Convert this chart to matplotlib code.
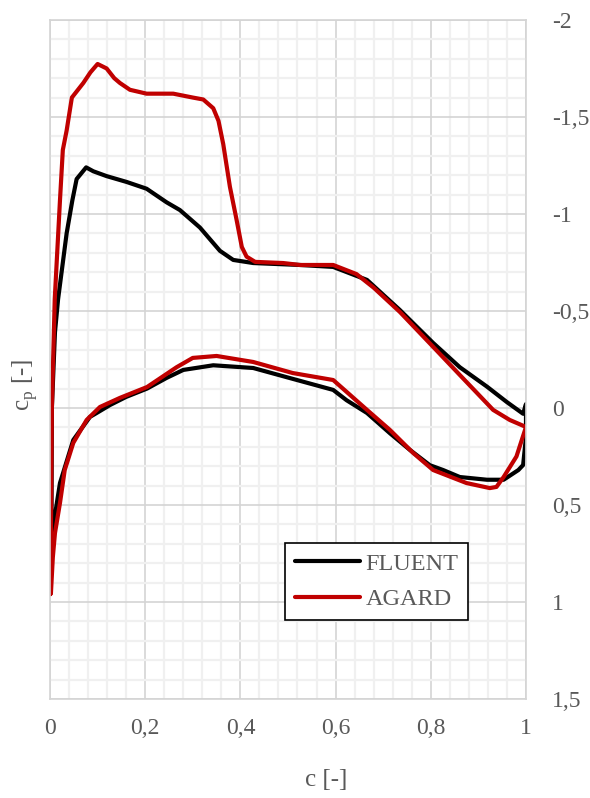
import numpy as np
import matplotlib.pyplot as plt
from matplotlib.ticker import MultipleLocator, FuncFormatter

# FLUENT: leading edge -> upper (suction) side -> TE -> lower side -> LE
fluent_x = [0.003, 0.004, 0.0105, 0.017, 0.035, 0.047, 0.056, 0.076, 0.091, 0.119,
            0.161, 0.203, 0.227, 0.245, 0.273, 0.315, 0.357, 0.385, 0.427, 0.525,
            0.595, 0.666, 0.735, 0.805, 0.861, 0.918, 0.96, 0.994, 1.0, 1.0,
            0.994, 0.984, 0.953, 0.918, 0.861, 0.826, 0.798, 0.756, 0.714, 0.666,
            0.623, 0.595, 0.51, 0.427, 0.343, 0.28, 0.245, 0.204, 0.16, 0.126,
            0.098, 0.084, 0.049, 0.021, 0.01, 0.006, 0.003]
fluent_cp = [0.72, 0.0, -0.39, -0.56, -0.90, -1.07, -1.18, -1.24, -1.22, -1.195,
             -1.165, -1.13, -1.09, -1.06, -1.02, -0.93, -0.81, -0.763, -0.747, -0.737,
             -0.727, -0.66, -0.505, -0.335, -0.21, -0.11, -0.03, 0.03, -0.02, 0.15,
             0.294, 0.32, 0.37, 0.37, 0.356, 0.32, 0.295, 0.216, 0.13, 0.026,
             -0.04, -0.093, -0.15, -0.206, -0.22, -0.196, -0.155, -0.10, -0.057, -0.015,
             0.026, 0.046, 0.165, 0.387, 0.56, 0.68, 0.72]

# AGARD
agard_x = [0.001, 0.004, 0.01, 0.021, 0.027, 0.035, 0.046, 0.07, 0.085, 0.10,
           0.119, 0.135, 0.147, 0.168, 0.203, 0.259, 0.30, 0.322, 0.343, 0.354,
           0.364, 0.378, 0.392, 0.403, 0.413, 0.431, 0.49, 0.525, 0.595, 0.644,
           0.68, 0.735, 0.805, 0.861, 0.931, 0.966, 1.0, 0.98, 0.953, 0.938,
           0.924, 0.875, 0.805, 0.763, 0.714, 0.666, 0.595, 0.51, 0.427, 0.35,
           0.30, 0.266, 0.204, 0.147, 0.105, 0.077, 0.049, 0.031, 0.021, 0.0105,
           0.006, 0.002]
agard_cp = [0.96, 0.0, -0.56, -1.07, -1.33, -1.43, -1.60, -1.675, -1.73, -1.773,
            -1.75, -1.70, -1.675, -1.64, -1.62, -1.62, -1.60, -1.59, -1.545, -1.48,
            -1.36, -1.14, -0.97, -0.83, -0.78, -0.753, -0.747, -0.737, -0.737, -0.69,
            -0.62, -0.495, -0.315, -0.17, 0.01, 0.062, 0.098, 0.25, 0.356, 0.407,
            0.413, 0.387, 0.32, 0.232, 0.113, 0.01, -0.144, -0.18, -0.237, -0.268,
            -0.258, -0.21, -0.108, -0.052, -0.005, 0.062, 0.18, 0.32, 0.49, 0.645,
            0.77, 0.955]

plt.rcParams['font.family'] = ['Liberation Serif', 'DejaVu Serif']
grey = '#595959'

fig = plt.figure(figsize=(5.9, 7.98), dpi=100)
ax = fig.add_axes([0.0847, 0.1241, 0.8068, 0.8509])

ax.plot(fluent_x, fluent_cp, color='black', lw=3.0, label='FLUENT',
        solid_joinstyle='round', solid_capstyle='round')
ax.plot(agard_x, agard_cp, color='#c00000', lw=3.0, label='AGARD',
        solid_joinstyle='round', solid_capstyle='round')

ax.set_xlim(0, 1)
ax.set_ylim(1.5, -2)
ax.xaxis.set_major_locator(MultipleLocator(0.2))
ax.xaxis.set_minor_locator(MultipleLocator(0.04))
ax.yaxis.set_major_locator(MultipleLocator(0.5))
ax.yaxis.set_minor_locator(MultipleLocator(0.1))
fmt = FuncFormatter(lambda v, p: ('%g' % v).replace('.', ','))
ax.xaxis.set_major_formatter(fmt)
ax.yaxis.set_major_formatter(fmt)
ax.yaxis.tick_right()
ax.tick_params(which='both', length=0)
ax.tick_params(axis='x', pad=14, labelsize=17, labelcolor=grey)
ax.tick_params(axis='y', pad=19, labelsize=17, labelcolor=grey)

ax.grid(which='minor', color='#f0f0f0', lw=1.6)
ax.grid(which='major', color='#d4d4d4', lw=1.2)
ax.set_axisbelow(True)
for s in ax.spines.values():
    s.set_color('#d4d4d4')
    s.set_linewidth(1.2)

fig.text(0.042, 0.518, r'c$_\mathregular{p}$ [-]', rotation=90, ha='center', va='center',
         fontsize=18, color=grey)
fig.text(0.553, 0.023, 'c [-]', ha='center', va='center', fontsize=18, color=grey)

leg = ax.legend(loc='upper left', bbox_to_anchor=(0.494, 0.2297), fontsize=17.5,
                frameon=True, fancybox=False, edgecolor='black', framealpha=1,
                handlelength=2.7, handletextpad=0.2, labelspacing=0.55, borderpad=0.4,
                borderaxespad=0)
leg.get_frame().set_linewidth(1.2)
for t in leg.get_texts():
    t.set_color(grey)

fig.savefig('out.png', dpi=100)
